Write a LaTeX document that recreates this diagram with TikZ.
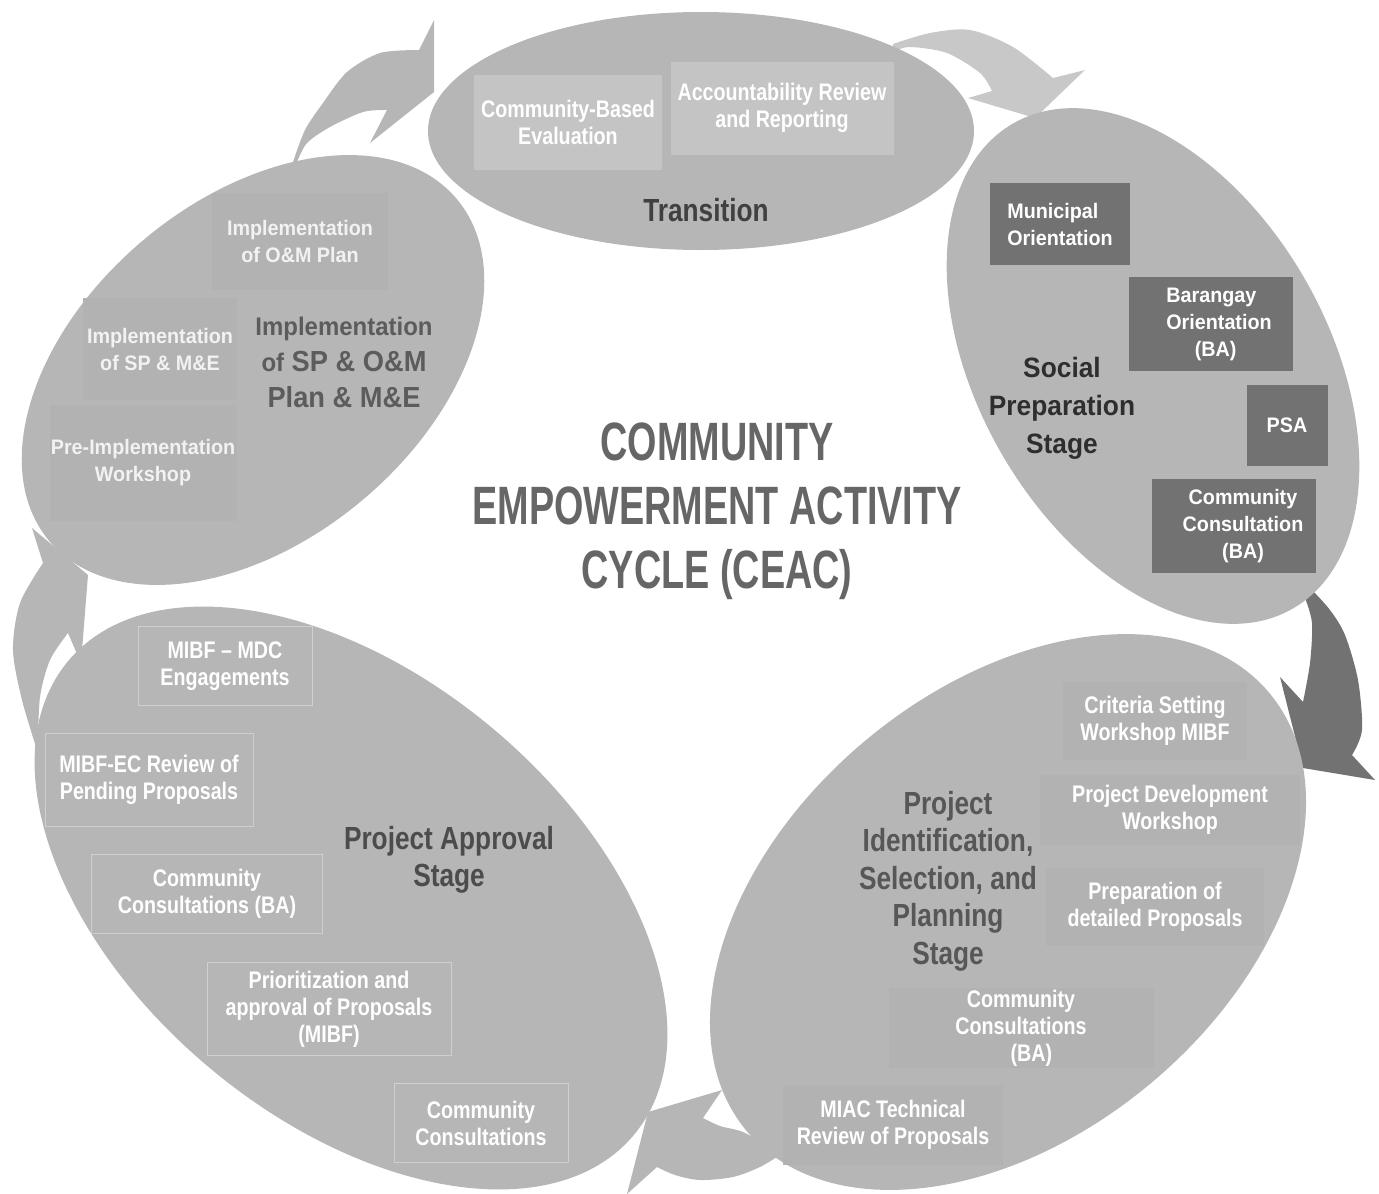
\documentclass[tikz,border=0pt]{standalone}
\usepackage{fontspec}
\setmainfont{Liberation Sans}
\newfontfamily\widefont[FakeStretch=0.94]{Liberation Sans}
\newfontfamily\narrowfont[FakeStretch=0.82]{Liberation Sans}
\newfontfamily\headfont[FakeStretch=0.70]{Liberation Sans}

\definecolor{stagefill}{HTML}{B6B6B6}
\definecolor{lightbox}{HTML}{C4C4C4}
\definecolor{lightarrow}{HTML}{C8C8C8}
\definecolor{darkgrey}{HTML}{727272}
\definecolor{faintbox}{HTML}{B2B2B2}
\definecolor{boxline}{HTML}{CFCFCF}

\tikzset{
  stage/.style={fill=stagefill},
  boxbase/.style={rectangle, inner sep=0pt, align=center, text=white},
  transbox/.style={boxbase, fill=lightbox, font=\narrowfont\bfseries\fontsize{24}{27}\selectfont},
  socbox/.style={boxbase, fill=darkgrey, font=\widefont\bfseries\fontsize{21}{27}\selectfont},
  soctext/.style={align=center, inner sep=0pt, text=white, font=\widefont\bfseries\fontsize{21}{27}\selectfont},
  impbox/.style={boxbase, fill=faintbox, text=white!95!black, font=\widefont\bfseries\fontsize{21}{27}\selectfont},
  appbox/.style={boxbase, draw=boxline, line width=1pt, font=\narrowfont\bfseries\fontsize{24}{27}\selectfont},
  idbox/.style={boxbase, fill=faintbox, font=\narrowfont\bfseries\fontsize{24}{27}\selectfont},
  stagetitle/.style={align=center, inner sep=0pt, font=\narrowfont\bfseries\fontsize{32}{37.5}\selectfont},
}

\begin{document}
\begin{tikzpicture}[x=1pt, y=-1pt]
\useasboundingbox (0,0) rectangle (1379,1194);

% ---- curved block arrows of the cycle ----
% Implementation -> Transition
\fill[stagefill] plot[smooth] coordinates {(293,162) (305,130) (323,103) (347,72) (380,53) (419,50)}
  -- (434,20) -- (434,92) -- (370,143) -- (387,110)
  -- plot[smooth] coordinates {(387,110) (363,112) (330,127) (307,143) (297,162)} -- cycle;
% Transition -> Social Preparation
\fill[lightarrow] plot[smooth] coordinates {(893,44) (930,33) (970,30) (1013,47) (1053,78)}
  -- (1085,70) -- (1035,118) -- (968,98) -- (992,91)
  -- plot[smooth] coordinates {(992,91) (980,73) (947,53) (910,47) (893,52)} -- cycle;
% Social Preparation -> Project Identification
\fill[darkgrey] plot[smooth] coordinates {(1312,590) (1330,610) (1345,635) (1358,680) (1362,730) (1352,755)}
  -- (1375,780) -- (1303,768) -- (1280,677) -- (1303,702)
  -- plot[smooth] coordinates {(1303,702) (1310,663) (1312,623) (1305,598)} -- cycle;
% Project Identification -> Project Approval
\fill[stagefill] plot[smooth] coordinates {(780,1155) (760,1167) (733,1177) (700,1180) (675,1175) (657,1167)}
  -- (627,1194) -- (648,1112) -- (722,1090) -- (703,1118)
  -- plot[smooth] coordinates {(703,1118) (720,1126) (743,1132) (770,1147)} -- cycle;
% Project Approval -> Implementation
\fill[stagefill] plot[smooth] coordinates {(37,750) (22,700) (13,650) (20,603) (43,563)}
  -- (32,528) -- (88,575) -- (81,663) -- (68,633)
  -- plot[smooth] coordinates {(68,633) (50,660) (40,697) (38,745)} -- cycle;

% ---- stage ellipses ----
\fill[stage] (701,131) ellipse [x radius=273, y radius=119];
\fill[stage, rotate around={-60:(1153,366)}] (1153,366) ellipse [x radius=280, y radius=175];
\fill[stage, rotate around={40:(1008,912)}] (1008,912) ellipse [x radius=341, y radius=223];
\fill[stage, rotate around={-40:(351,898)}] (351,898) ellipse [x radius=369, y radius=221];
\fill[stage, rotate around={40:(253,370)}] (253,370) ellipse [x radius=266, y radius=170];

% ---- Transition ----
\node[transbox, minimum width=188, minimum height=95] (cbe) at (568,122) {Community-Based\\Evaluation};
\node[transbox, minimum width=223, minimum height=93] (arr) at (782,108) {Accountability Review\\and Reporting};
\node[stagetitle, text=black!75] (trans) at (706,210) {Transition};

% ---- Social Preparation Stage ----
\node[socbox, align=left, minimum width=140, minimum height=82] (mo) at (1060,224) {Municipal\\Orientation};
\node[socbox, minimum width=164, minimum height=94] (bo) at (1211,324) {};
\node[soctext, align=left] (bot) at (1219,324) {Barangay\\Orientation\\\hphantom{Ori}(BA)};
\node[socbox, minimum width=81, minimum height=81] (psa) at (1287,425) {PSA};
\node[socbox, minimum width=164, minimum height=94] (cc) at (1234,526) {};
\node[soctext] (cct) at (1243,526) {Community\\Consultation\\(BA)};
\node[align=center, inner sep=0pt, text=black!82, font=\widefont\bfseries\fontsize{28}{38}\selectfont] (sps) at (1062,408) {Social\\Preparation\\Stage};

% ---- Implementation ----
\node[impbox, minimum width=176, minimum height=97] (iom) at (300,241) {Implementation\\of O\&M Plan};
\node[impbox, minimum width=154, minimum height=102] (isp) at (160,349) {Implementation\\of SP \& M\&E};
\node[impbox, minimum width=187, minimum height=116] (piw) at (143,463) {Pre-Implementation\\Workshop};
\node[align=center, inner sep=0pt, text=black!64, font=\widefont\bfseries\fontsize{29}{36}\selectfont] (imp) at (344,362)
  {{\fontsize{25.5}{36}\selectfont Implementation}\\
   {\fontsize{25.5}{36}\selectfont of} SP \& O\&M\\
   Plan \& M\&E};

% ---- Project Approval Stage ----
\node[appbox, minimum width=174, minimum height=79] (mdc) at (225,666) {MIBF – MDC\\Engagements};
\node[appbox, minimum width=208, minimum height=93] (ec) at (149,780) {MIBF-EC Review of\\Pending Proposals};
\node[appbox, minimum width=231, minimum height=79] (ccba) at (207,894) {Community\\Consultations (BA)};
\node[appbox, minimum width=244, minimum height=93] (prio) at (329,1009) {Prioritization and\\approval of Proposals\\(MIBF)};
\node[appbox, minimum width=174, minimum height=79] (ccs) at (481,1123) {Community\\Consultations};
\node[stagetitle, text=black!70] (pas) at (449,860) {Project Approval\\Stage};

% ---- Project Identification, Selection, and Planning Stage ----
\node[idbox, minimum width=184, minimum height=78] (crit) at (1155,721) {Criteria Setting\\Workshop MIBF};
\node[idbox, minimum width=260, minimum height=70] (pdw) at (1170,810) {Project Development\\Workshop};
\node[idbox, minimum width=218, minimum height=78] (prep) at (1155,907) {Preparation of\\detailed Proposals};
\node[idbox, minimum width=265, minimum height=80] (ccid) at (1021,1028) {Community\\Consultations\\\hphantom{(B}(BA)};
\node[idbox, minimum width=220, minimum height=80] (miac) at (893,1125) {MIAC Technical\\Review of Proposals};
\node[stagetitle, text=black!66] (pis) at (948,881) {Project\\Identification,\\Selection, and\\Planning\\Stage};

% ---- centre title ----
\node[align=center, inner sep=0pt, text=black!60, font=\headfont\bfseries\fontsize{54}{64}\selectfont] (ceac) at (717,511)
  {COMMUNITY\\EMPOWERMENT ACTIVITY\\CYCLE (CEAC)};
\end{tikzpicture}
\end{document}
